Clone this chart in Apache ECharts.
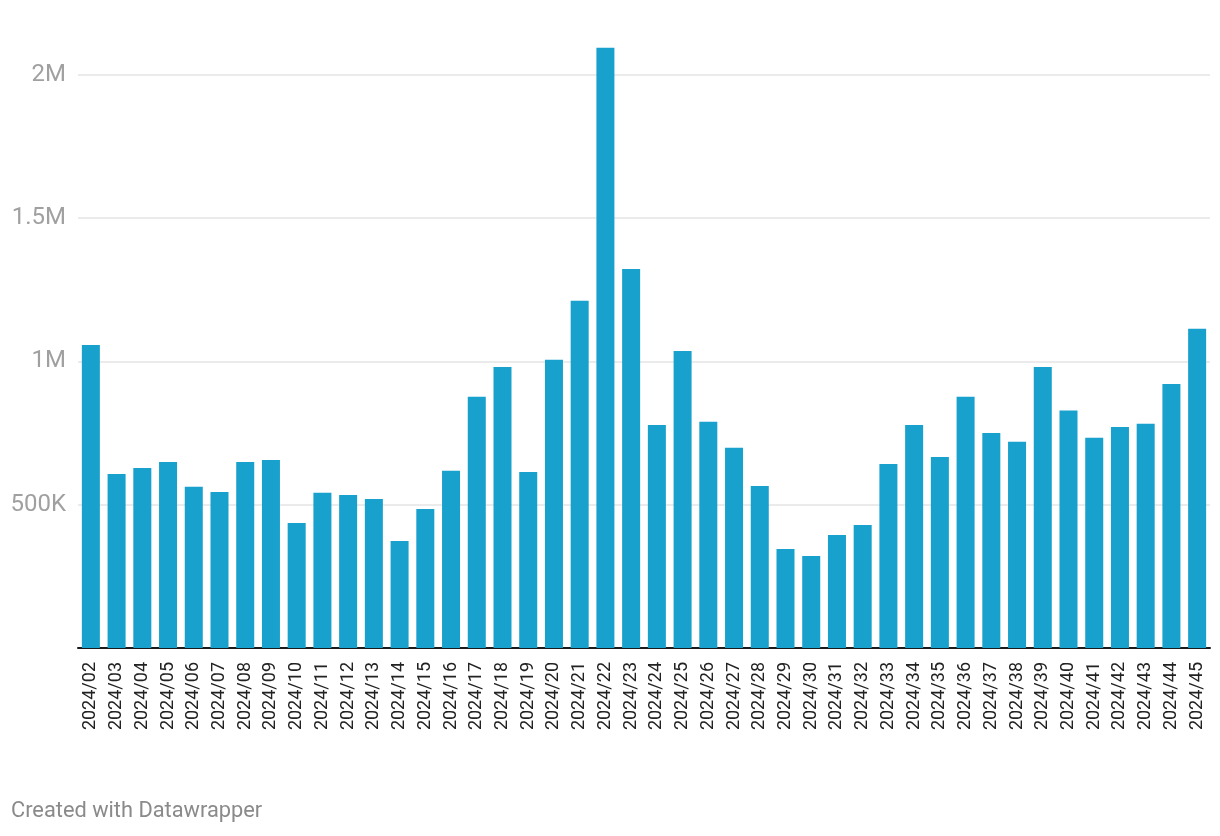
<!DOCTYPE html>
<html>
<head>
<meta charset="utf-8">
<script src="https://cdn.jsdelivr.net/npm/echarts@6/dist/echarts.min.js"></script>
<style>
html,body{margin:0;padding:0;background:#fff;}
#chart{width:1220px;height:836px;}
</style>
</head>
<body>
<div id="chart"></div>
<script>
var categories = ["2024/02","2024/03","2024/04","2024/05","2024/06","2024/07","2024/08","2024/09","2024/10","2024/11","2024/12","2024/13","2024/14","2024/15","2024/16","2024/17","2024/18","2024/19","2024/20","2024/21","2024/22","2024/23","2024/24","2024/25","2024/26","2024/27","2024/28","2024/29","2024/30","2024/31","2024/32","2024/33","2024/34","2024/35","2024/36","2024/37","2024/38","2024/39","2024/40","2024/41","2024/42","2024/43","2024/44","2024/45"];
var values = [1057000,607000,628000,649000,562000,544000,649000,656000,436000,541000,534000,520000,373000,485000,618000,876000,980000,614000,1005000,1211000,2093000,1322000,778000,1036000,789000,698000,565000,345000,321000,394000,429000,642000,778000,666000,876000,750000,719000,980000,828000,733000,771000,782000,921000,1113000];
var yTicks = {0:"",500000:"500K",1000000:"1M",1500000:"1.5M",2000000:"2M"};

var chart = echarts.init(document.getElementById('chart'));
chart.setOption({
  animation:false,
  title:{
    text:"Created with Datawrapper",
    left:11, top:801, padding:0,
    textStyle:{fontFamily:"Roboto",fontSize:21.8,fontWeight:"normal",color:"#8a8a8a"}
  },
  grid:{left:78,right:10,top:74.5,bottom:188},
  xAxis:{
    type:"category",
    data:categories,
    axisLine:{show:true,lineStyle:{color:"#1a1a1a",width:2}},
    axisTick:{show:false},
    axisLabel:{rotate:90,interval:0,margin:14,fontFamily:"Roboto",fontSize:18,color:"#222"}
  },
  yAxis:{
    type:"value",
    min:0,max:2000000,interval:500000,
    axisLine:{show:false},
    axisTick:{show:false},
    splitLine:{lineStyle:{color:"#e5e5e5",width:1.5}},
    axisLabel:{margin:12,fontFamily:"Roboto",fontSize:24,color:"#a0a0a0",
      formatter:function(v){return yTicks[v]!==undefined?yTicks[v]:"";}}
  },
  series:[{
    type:"bar",
    data:values,
    clip:false,
    barCategoryGap:"30%",
    itemStyle:{color:"#18a1cd"}
  }]
});
</script>
</body>
</html>
